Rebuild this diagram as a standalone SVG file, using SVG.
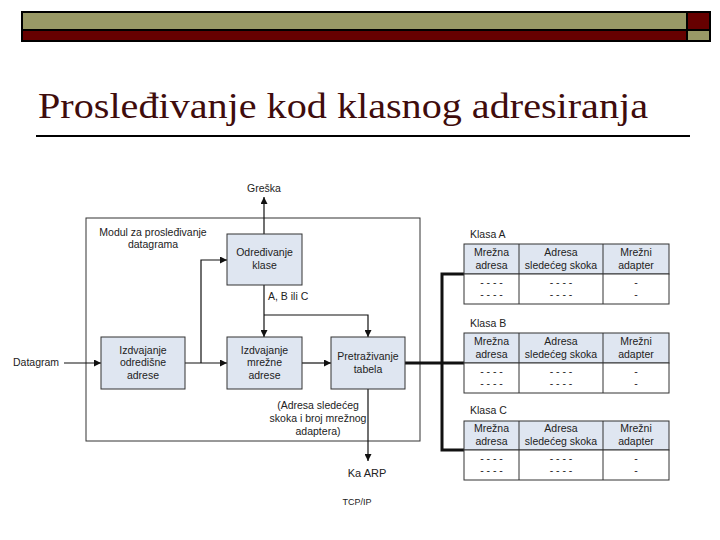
<svg xmlns="http://www.w3.org/2000/svg" width="720" height="540" viewBox="0 0 720 540">
<defs>
<style>
.t{font-family:"Liberation Sans",Arial,sans-serif;font-size:10.5px;fill:#222;text-anchor:middle}
.l{font-family:"Liberation Sans",Arial,sans-serif;font-size:10.5px;fill:#222}
.node{fill:#dfe6f1;stroke:#333;stroke-width:1}
.hdr{fill:#dfe6f1;stroke:#333;stroke-width:1}
.cell{fill:#fff;stroke:#333;stroke-width:1}
.c{fill:none;stroke:#111;stroke-width:1.2}
.g{stroke:#333;stroke-width:1}
.thick{fill:none;stroke:#111;stroke-width:3}
</style>
<marker id="ar" viewBox="0 0 10 10" refX="10" refY="5" markerWidth="7" markerHeight="7" markerUnits="userSpaceOnUse" orient="auto">
<path d="M0,0 L10,5 L0,10 z" fill="#111"/>
</marker>
</defs>
<rect width="720" height="540" fill="#fff"/>
<g id="header">
<rect x="22" y="12" width="665" height="18" fill="#999966" stroke="#000" stroke-width="2"/>
<rect x="22" y="30" width="665" height="11" fill="#660000" stroke="#000" stroke-width="2"/>
<rect x="687" y="12" width="23" height="18" fill="#660000" stroke="#000" stroke-width="2"/>
<rect x="687" y="30" width="23" height="11" fill="#999966" stroke="#000" stroke-width="2"/>
</g>
<g id="title">
<text x="38" y="118" font-family="Liberation Serif,'Times New Roman',serif" font-size="35" fill="#3f0c0c" textLength="610" lengthAdjust="spacingAndGlyphs">Prosleđivanje kod klasnog adresiranja</text>
<line x1="36" y1="136" x2="690" y2="136" stroke="#000" stroke-width="2"/>
</g>
<g id="module">
<rect x="86" y="218" width="334" height="223" fill="none" stroke="#333" stroke-width="1"/>
<text class="t" x="153" y="236">Modul za prosleđivanje</text>
<text class="t" x="153" y="248">datagrama</text>
</g>
<g id="connectors">
<line class="c" x1="264" y1="234" x2="264" y2="197" marker-end="url(#ar)"/>
<line class="c" x1="64" y1="363" x2="101" y2="363" marker-end="url(#ar)"/>
<line class="c" x1="185" y1="363" x2="227" y2="363" marker-end="url(#ar)"/>
<polyline class="c" points="201,363 201,260 227,260" marker-end="url(#ar)"/>
<line class="c" x1="302" y1="363" x2="331" y2="363" marker-end="url(#ar)"/>
<line class="c" x1="264" y1="285" x2="264" y2="337" marker-end="url(#ar)"/>
<polyline class="c" points="264,315 368,315 368,337" marker-end="url(#ar)"/>
<line class="c" x1="368" y1="389" x2="368" y2="461" marker-end="url(#ar)"/>
<line class="thick" x1="405" y1="363" x2="464" y2="363"/>
<polyline class="thick" points="464,274 442,274 442,450 464,450"/>
</g>
<g id="labels">
<text class="t" x="264" y="192">Greška</text>
<text class="l" x="268" y="300">A, B ili C</text>
<text class="l" x="13" y="366">Datagram</text>
<text class="t" x="318" y="409">(Adresa sledećeg</text>
<text class="t" x="318" y="422">skoka i broj mrežnog</text>
<text class="t" x="318" y="435">adaptera)</text>
<text class="t" x="367" y="477" style="font-size:11px">Ka ARP</text>
<text class="t" x="357" y="505" style="font-size:9px">TCP/IP</text>
</g>
<g id="odredjivanje-klase">
<rect class="node" x="227" y="234" width="75" height="51"/>
<text class="t" x="264.5" y="256">Određivanje</text>
<text class="t" x="264.5" y="269">klase</text>
</g>
<g id="izdvajanje-odredisne">
<rect class="node" x="101" y="337" width="84" height="52"/>
<text class="t" x="143" y="354">Izdvajanje</text>
<text class="t" x="143" y="366">odredišne</text>
<text class="t" x="143" y="379">adrese</text>
</g>
<g id="izdvajanje-mrezne">
<rect class="node" x="227" y="337" width="75" height="52"/>
<text class="t" x="264.5" y="354">Izdvajanje</text>
<text class="t" x="264.5" y="366">mrežne</text>
<text class="t" x="264.5" y="379">adrese</text>
</g>
<g id="pretrazivanje">
<rect class="node" x="331" y="337" width="74" height="52"/>
<text class="t" x="368" y="360">Pretraživanje</text>
<text class="t" x="368" y="373">tabela</text>
</g>
<g id="klasa-a">
<text class="l" x="470" y="238">Klasa A</text>
<rect class="hdr" x="464" y="244" width="205" height="30"/>
<rect class="cell" x="464" y="274" width="205" height="30"/>
<line class="g" x1="519" y1="244" x2="519" y2="304"/>
<line class="g" x1="603" y1="244" x2="603" y2="304"/>
<text class="t" x="491.5" y="256">Mrežna</text><text class="t" x="491.5" y="269">adresa</text>
<text class="t" x="561" y="256">Adresa</text><text class="t" x="561" y="269">sledećeg skoka</text>
<text class="t" x="636" y="256">Mrežni</text><text class="t" x="636" y="269">adapter</text>
<text class="t" x="491.5" y="286">- - - -</text><text class="t" x="491.5" y="298">- - - -</text>
<text class="t" x="561" y="286">- - - -</text><text class="t" x="561" y="298">- - - -</text>
<text class="t" x="636" y="286">-</text><text class="t" x="636" y="298">-</text>
</g>
<g id="klasa-b">
<text class="l" x="470" y="327">Klasa B</text>
<rect class="hdr" x="464" y="333" width="205" height="30"/>
<rect class="cell" x="464" y="363" width="205" height="30"/>
<line class="g" x1="519" y1="333" x2="519" y2="393"/>
<line class="g" x1="603" y1="333" x2="603" y2="393"/>
<text class="t" x="491.5" y="345">Mrežna</text><text class="t" x="491.5" y="358">adresa</text>
<text class="t" x="561" y="345">Adresa</text><text class="t" x="561" y="358">sledećeg skoka</text>
<text class="t" x="636" y="345">Mrežni</text><text class="t" x="636" y="358">adapter</text>
<text class="t" x="491.5" y="375">- - - -</text><text class="t" x="491.5" y="387">- - - -</text>
<text class="t" x="561" y="375">- - - -</text><text class="t" x="561" y="387">- - - -</text>
<text class="t" x="636" y="375">-</text><text class="t" x="636" y="387">-</text>
</g>
<g id="klasa-c">
<text class="l" x="470" y="414">Klasa C</text>
<rect class="hdr" x="464" y="421" width="205" height="29"/>
<rect class="cell" x="464" y="450" width="205" height="30"/>
<line class="g" x1="519" y1="421" x2="519" y2="480"/>
<line class="g" x1="603" y1="421" x2="603" y2="480"/>
<text class="t" x="491.5" y="432">Mrežna</text><text class="t" x="491.5" y="445">adresa</text>
<text class="t" x="561" y="432">Adresa</text><text class="t" x="561" y="445">sledećeg skoka</text>
<text class="t" x="636" y="432">Mrežni</text><text class="t" x="636" y="445">adapter</text>
<text class="t" x="491.5" y="462">- - - -</text><text class="t" x="491.5" y="474">- - - -</text>
<text class="t" x="561" y="462">- - - -</text><text class="t" x="561" y="474">- - - -</text>
<text class="t" x="636" y="462">-</text><text class="t" x="636" y="474">-</text>
</g>
</svg>
